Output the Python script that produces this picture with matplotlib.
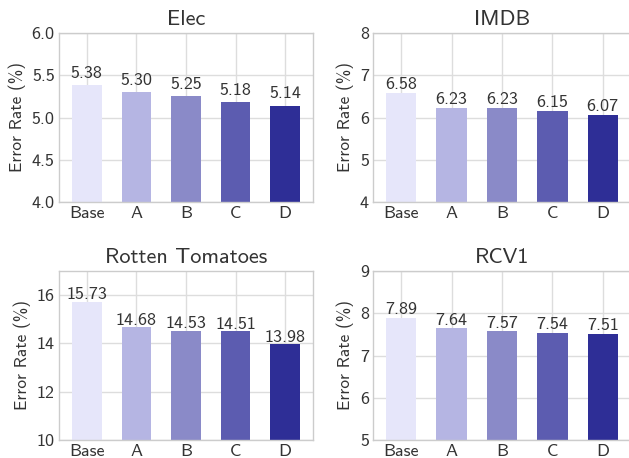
import matplotlib
matplotlib.use("Agg")
import matplotlib.pyplot as plt
from matplotlib.ticker import FormatStrFormatter

plt.rcParams["font.family"] = ["cmss10", "DejaVu Sans"]
plt.rcParams["axes.unicode_minus"] = False
plt.rcParams["mathtext.fontset"] = "cm"

methods = ["Base", "A", "B", "C", "D"]
colors = ["#e6e6fa", "#b5b5e3", "#8a8ac8", "#5c5cb0", "#2e2e96"]

elec = [5.38, 5.30, 5.25, 5.18, 5.14]
imdb = [6.58, 6.23, 6.23, 6.15, 6.07]
rotten = [15.73, 14.68, 14.53, 14.51, 13.98]
rcv1 = [7.89, 7.64, 7.57, 7.54, 7.51]

panels = [
    ("Elec", elec, (4.0, 6.0), [4.0, 4.5, 5.0, 5.5, 6.0], "%.1f"),
    ("IMDB", imdb, (4, 8), [4, 5, 6, 7, 8], "%d"),
    ("Rotten Tomatoes", rotten, (10, 17), [10, 12, 14, 16], "%d"),
    ("RCV1", rcv1, (5, 9), [5, 6, 7, 8, 9], "%d"),
]

W, H = 629, 458
fig = plt.figure(figsize=(W / 100, H / 100), dpi=100)

# axes boxes in pixels: left, top, right, bottom
boxes = [
    (59, 33, 313, 202),
    (373, 33, 631, 202),
    (59, 271, 313, 440),
    (373, 271, 631, 440),
]

text_color = "#333333"
grid_color = "#dddddd"
spine_color = "#cccccc"

for (title, vals, ylim, yticks, fmt), (l, t, r, b) in zip(panels, boxes):
    ax = fig.add_axes([l / W, 1 - b / H, (r - l) / W, (b - t) / H])
    x = list(range(len(methods)))
    ax.bar(x, vals, width=0.6, color=colors, zorder=2)
    for xi, v in zip(x, vals):
        ax.text(xi, v + 0.09, f"{v:.2f}",
                ha="center", va="baseline", fontsize=13, color=text_color, zorder=3)
    ax.set_xlim(-0.56, 4.56)
    ax.set_ylim(*ylim)
    ax.set_yticks(yticks)
    ax.yaxis.set_major_formatter(FormatStrFormatter(fmt))
    ax.set_xticks(x)
    ax.set_xticklabels(methods)
    ax.set_title(title, fontsize=16, color=text_color, pad=6)
    ax.set_ylabel("Error Rate (%)", fontsize=12.5, color=text_color, labelpad=4)
    ax.tick_params(axis="both", labelsize=13, colors=text_color, length=0, pad=3)
    ax.grid(True, color=grid_color, linewidth=1.0, zorder=0)
    ax.set_axisbelow(True)
    for s in ax.spines.values():
        s.set_color(spine_color)
        s.set_linewidth(1.0)

fig.savefig("out.png", dpi=100)
